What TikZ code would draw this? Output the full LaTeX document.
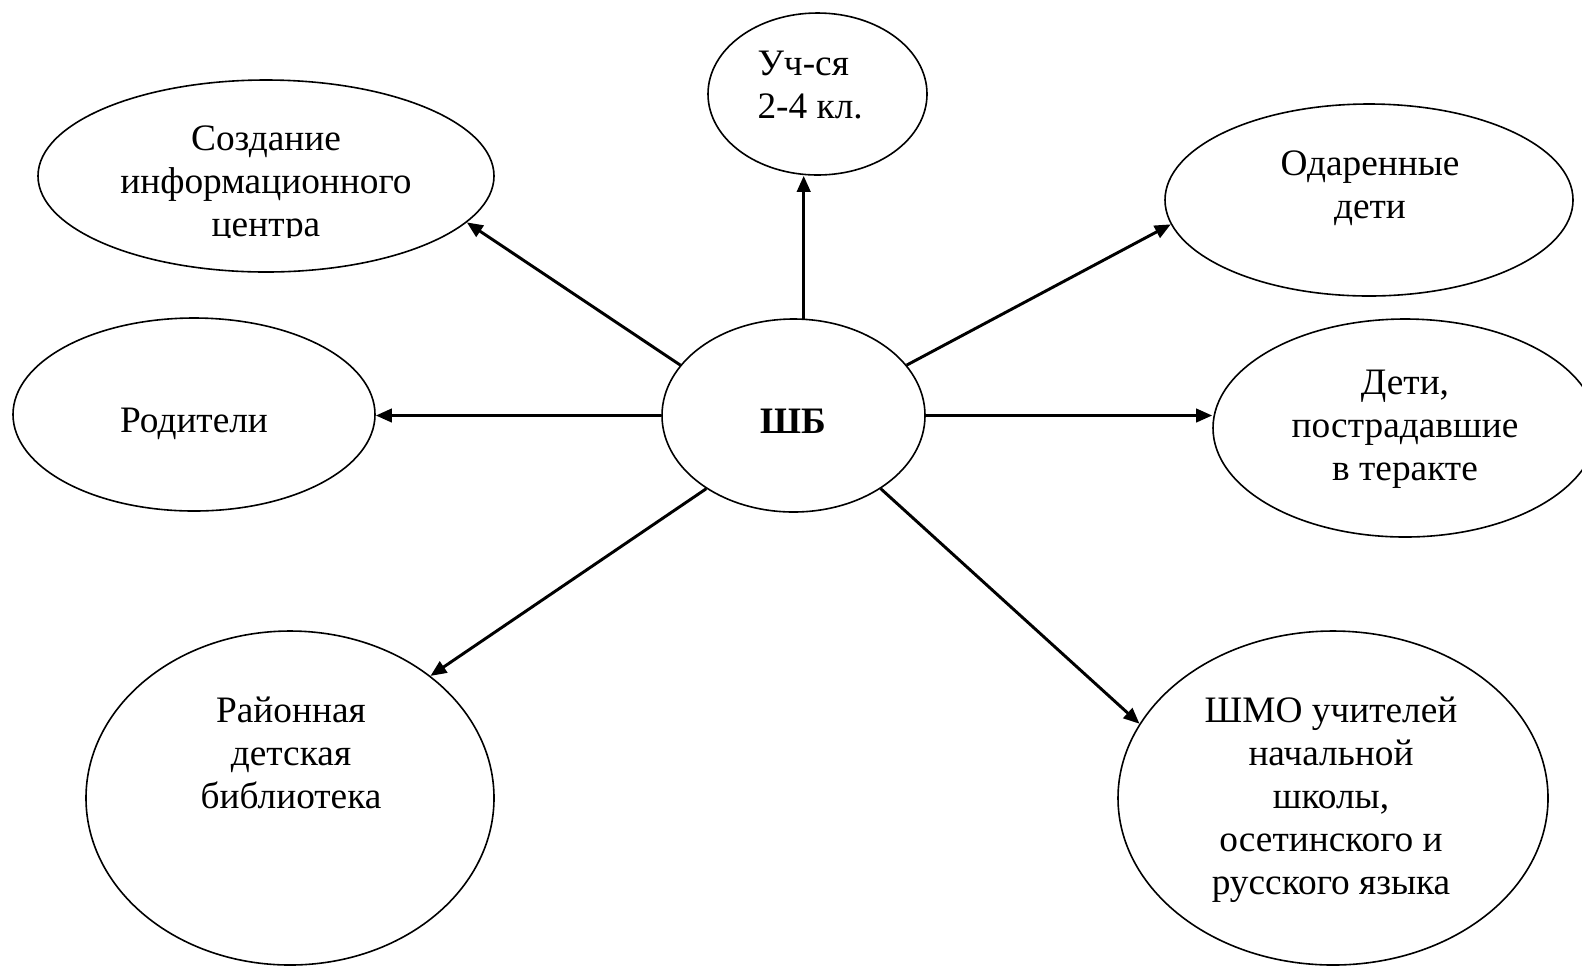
\documentclass[tikz,border=0pt]{standalone}
\usepackage{fontspec}
\setmainfont{Liberation Serif}
\usetikzlibrary{arrows.meta,shapes.geometric}
\tikzset{
  ell/.style 2 args={draw, ellipse, line width=0.6pt, inner sep=0pt,
    minimum width=#1*0.75pt, minimum height=#2*0.75pt},
  txt/.style={align=center, anchor=base, inner sep=0pt},
  arr/.style={line width=1.1pt, -{Triangle[length=6pt,width=5pt]}}
}
\begin{document}
\begin{tikzpicture}[x=0.375pt, y=-0.375pt, font=\fontsize{14}{16.1}\selectfont]
\clip (0,0) rectangle (1582,966);
\fill[white] (0,0) rectangle (1582,966);
% ellipses
\node[ell={109.5}{81}]   (uch)  at (817.5,94) {};
\node[ell={228}{96}]     (soz)  at (266,176) {};
\node[ell={204}{96}]     (odar) at (1369,200) {};
\node[ell={181}{96.5}]   (rod)  at (194,414.5) {};
\node[ell={131.5}{96.5}] (sb)   at (793.5,415.5) {};
\node[ell={192}{109}]    (deti) at (1405,428) {};
\node[ell={204}{167}]    (ray)  at (290,798) {};
\node[ell={215}{167}]    (shmo) at (1333,798) {};
% texts (anchor = baseline of the last line)
\node[inner sep=0pt, anchor=base west, align=left] (uchT) at (757,118) {Уч-ся\\2-4 кл.};
\begin{scope}
\clip (40,100) rectangle (500,237);
\node[txt] (sozT) at (266,236) {Создание\\информационного\\центра};
\end{scope}
\node[txt] (odarT) at (1370,218) {Одаренные\\дети};
\node[txt] (rodT)  at (194,432) {Родители};
\node[txt, font=\fontsize{14}{16.1}\selectfont\bfseries] (sbT) at (793.5,433) {ШБ};
\node[txt] (detiT) at (1405,480) {Дети,\\пострадавшие\\в теракте};
\node[txt] (rayT)  at (291,808) {Районная\\детская\\библиотека};
\node[txt] (shmoT) at (1331,894) {ШМО учителей\\начальной\\школы,\\осетинского и\\русского языка};
% arrows
\draw[arr] (sb.84) -- (sb.84 |- uch.south);
\draw[arr] (sb.156.2) -- (soz.-13.1);
\draw[arr] (sb.24.1) -- (odar.-173);
\draw[arr] (sb.west) -- (sb.west -| rod.east);
\draw[arr] (sb.east) -- (sb.east -| deti.west);
\draw[arr] (sb.220.2) -- (ray.41);
\draw[arr] (sb.-40) -- (shmo.159.4);
\end{tikzpicture}
\end{document}
